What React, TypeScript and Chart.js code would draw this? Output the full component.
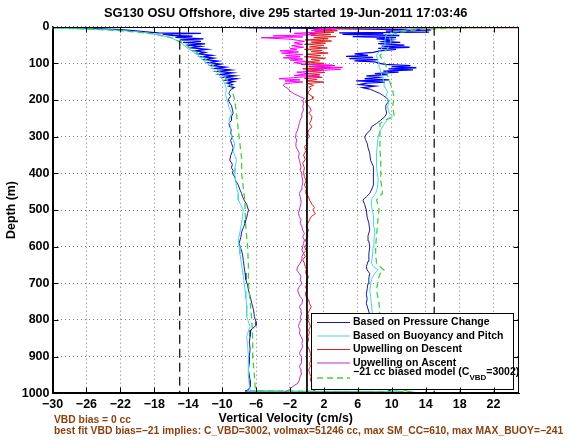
import React, { useEffect, useRef } from 'react';
import { Chart, registerables } from 'chart.js';

Chart.register(...registerables);

// ---------- text ----------
const TITLE = 'SG130 OSU Offshore, dive 295 started 19-Jun-2011 17:03:46';
const X_LABEL = 'Vertical Velocity (cm/s)';
const Y_LABEL = 'Depth (m)';
const NOTE_1 = 'VBD bias = 0 cc';
const NOTE_2 = 'best fit VBD bias=\u221221 implies: C_VBD=3002, volmax=51246 cc, max SM_CC=610, max MAX_BUOY=\u2212241';
const LEGEND_LABELS = [
  'Based on Pressure Change',
  'Based on Buoyancy and Pitch',
  'Upwelling on Descent',
  'Upwelling on Ascent',
  '\u221221 cc biased model (C|VBD|=3002)',
];

// ---------- axes ----------
const X_MIN = -30;
const X_MAX = 25;
const X_TICKS = [-30, -26, -22, -18, -14, -10, -6, -2, 2, 6, 10, 14, 18, 22];
const Y_MIN = 0;
const Y_MAX = 1000;
const Y_STEP = 100;
const REF_SOLID = [0];
const REF_DASHED = [-15, 15];

// ---------- data: [depth (m), vertical velocity (cm/s)] ----------
const PRESSURE_DESC_NEAR: [number, number][] = [
  [0, -40], [3, -30], [5, -25], [8, -22], [11, -20.5], [14, -19], [17, -17.5], [18, -12.5], [20, -17],
  [24, -15.8], [26, -13.5], [29, -15.5], [33, -12.2], [36, -15], [40, -12.5], [43, -14.6], [47, -12],
  [50, -14.2], [54, -12.5], [58, -13.6], [62, -11.8], [66, -13.2], [70, -12], [74, -12.8], [78, -11.2],
  [82, -12.4], [86, -11], [90, -12], [94, -10.5], [98, -11.6], [102, -10.2], [106, -11.2], [110, -9.6],
  [114, -10.8], [118, -9], [122, -10.5], [126, -8.8], [130, -10.2], [134, -8.5], [138, -9.8], [142, -8.3],
  [146, -9.6], [150, -8.6], [154, -9.4], [158, -8.8], [162, -9.2], [166, -8.6], [170, -8.9],
];
const PRESSURE_DESC_DEEP: [number, number][] = [
  [170, -8.9], [176, -9.1], [182, -9.2], [190, -9.0], [200, -9.3], [208, -9.1], [215, -8.9], [225, -8.8],
  [236, -8.7], [245, -8.9], [255, -8.9], [264, -9.2], [273, -9.1], [282, -8.9], [290, -9.0], [300, -8.8],
  [310, -9.0], [318, -8.9], [330, -8.7], [340, -8.8], [352, -9.0], [364, -9.1], [375, -8.8], [385, -8.9],
  [393, -8.7], [400, -8.8], [410, -8.5], [420, -8.4], [432, -8.1], [445, -7.9], [455, -7.7], [464, -7.6],
  [473, -7.4], [485, -7.1], [500, -6.9], [510, -7.0], [520, -7.1], [528, -7.2], [536, -7.3], [548, -7.5],
  [560, -7.7], [575, -7.8], [591, -8.0], [605, -7.8], [620, -7.6], [638, -7.5], [655, -7.4], [672, -7.3],
  [690, -7.2], [705, -7.0], [718, -6.9], [735, -6.7], [755, -6.5], [772, -6.3], [791, -6.2], [805, -6.0],
  [815, -6.0], [827, -6.6], [845, -6.7], [860, -6.8], [880, -6.7], [900, -6.8], [918, -6.8], [935, -6.9],
  [950, -6.8], [965, -6.7], [982, -6.7], [990, -6.9], [994, -7.3],
];
const PRESSURE_BOTTOM: [number, number][] = [[995, 2], [995, 10]];
const PRESSURE_ASC_DEEP: [number, number][] = [
  [990, 9.5], [975, 8.5], [960, 7.9], [940, 7.6], [920, 7.4], [900, 7.3], [880, 7.4], [860, 7.2], [840, 7.3],
  [820, 7.1], [800, 7.3], [785, 7.4], [770, 7.2], [755, 7.0], [742, 7.1], [730, 7.0], [715, 7.1], [700, 7.2],
  [685, 7.3], [673, 7.4], [664, 7.1], [655, 7.0], [640, 7.2], [620, 7.3], [600, 7.4], [585, 7.3], [570, 7.2],
  [555, 7.4], [536, 7.3], [520, 7.1], [500, 7.0], [485, 6.8], [473, 6.6], [464, 7.0], [455, 7.4], [440, 7.7],
  [428, 7.9], [418, 7.9], [400, 7.8], [382, 7.8], [364, 7.5], [345, 7.4], [330, 7.2], [318, 7.1], [308, 6.9],
  [300, 6.8], [290, 7.1], [282, 7.5], [273, 7.6], [264, 8.2], [255, 8.7], [245, 9.2], [236, 9.4], [225, 9.3],
  [214, 9.3], [205, 9.6], [196, 9.5], [188, 9.0], [182, 8.6], [176, 8.0], [170, 7.4],
];
const PRESSURE_ASC_NEAR: [number, number][] = [
  [170, 7.4], [166, 6.6], [162, 8.0], [158, 6.2], [154, 7.0], [151, 9.2], [148, 5.8], [145, 9.7], [142, 6.8],
  [138, 8.5], [134, 7.0], [131, 9.5], [128, 8.0], [124, 10.8], [121, 9.0], [118, 12.5], [115, 9.6], [112, 12.9],
  [109, 10.0], [106, 12.2], [103, 9.2], [100, 8.6], [96, 8.0], [93, 5.6], [90, 8.4], [87, 5.0], [84, 7.8],
  [81, 4.6], [78, 7.2], [74, 5.6], [70, 7.8], [66, 8.6], [62, 10.5], [59, 8.4], [56, 12.1], [53, 8.8],
  [50, 11.5], [46, 8.4], [43, 11.0], [40, 9.0], [36, 10.0], [33, 8.2], [30, 10.5], [27, 5.4], [24, 10.9],
  [21, 4.2], [19, 9.0], [17, 3.8], [15, 14.4], [12, 9.3], [9, 14.6], [6, 5], [4, -2], [3, -6.5], [2, -8.3],
];
const BUOY_DESC: [number, number][] = [
  [1, -35], [4, -30], [7, -25], [10, -22], [15, -19.5], [20, -18], [30, -16], [45, -14.8], [60, -14],
  [75, -13], [90, -12.3], [105, -11.5], [120, -10.8], [135, -10.2], [150, -9.8], [160, -9.6], [170, -9.5],
  [185, -9.6], [200, -9.4], [220, -9.2], [236, -8.9], [255, -9.2], [273, -9.0], [300, -8.9], [318, -8.5],
  [340, -8.7], [364, -8.3], [385, -8.5], [400, -8.5], [420, -8.4], [440, -8.3], [455, -8.1], [473, -8.1],
  [486, -7.8], [500, -7.5], [518, -7.6], [536, -7.7], [560, -7.9], [582, -8.1], [600, -8.0], [620, -7.9],
  [650, -7.7], [680, -7.5], [700, -7.4], [720, -7.3], [740, -7.2], [760, -7.1], [791, -7.1], [805, -6.9],
  [818, -6.7], [830, -6.9], [845, -7.1], [870, -7.0], [900, -6.9], [930, -6.9], [955, -6.9], [975, -6.8],
  [990, -6.7], [994, -7.0],
];
const BUOY_BOTTOM: [number, number][] = [[996, 3], [995, 11]];
const BUOY_ASC: [number, number][] = [
  [990, 10], [970, 8.6], [950, 8.1], [930, 7.9], [900, 7.9], [870, 7.8], [840, 7.8], [800, 7.8], [780, 7.7],
  [755, 7.6], [735, 7.5], [718, 7.4], [705, 7.5], [690, 7.6], [675, 7.9], [664, 8.4], [655, 7.9], [645, 7.6],
  [630, 7.7], [600, 7.8], [580, 7.9], [560, 8.0], [545, 7.9], [530, 7.9], [515, 7.8], [500, 7.7], [485, 7.6],
  [473, 7.6], [464, 7.8], [455, 8.1], [440, 8.3], [418, 8.4], [400, 8.3], [382, 8.2], [364, 8.2], [345, 8.2],
  [320, 8.3], [300, 8.4], [285, 8.6], [273, 8.9], [262, 9.2], [250, 9.6], [245, 10.1], [240, 9.9], [236, 9.7],
  [225, 9.6], [218, 9.5], [205, 9.7], [190, 9.3], [178, 9.5], [165, 9.2], [151, 9.1], [138, 8.9], [124, 8.7],
  [112, 8.6], [101, 8.5], [90, 8.3], [78, 8.2], [65, 8.6], [51, 9.1], [38, 9.2], [24, 9.3], [15, 10], [8, 12],
  [3, 14], [1, 20],
];
const MODEL_DESC: [number, number][] = [
  [1, -40], [3, -30], [6, -26], [10, -22.5], [15, -20], [20, -18], [30, -16], [45, -14.6], [60, -13.6],
  [80, -12.4], [100, -11.4], [120, -10.4], [140, -9.6], [160, -9.0], [170, -8.9], [200, -8.5], [240, -8.3],
  [280, -8.1], [320, -7.9], [360, -7.7], [400, -7.7], [440, -7.5], [480, -7.3], [500, -7.3], [550, -7.2],
  [600, -7.0], [650, -6.9], [700, -6.9], [750, -6.7], [800, -6.5], [850, -6.4], [900, -6.4], [950, -6.2],
  [985, -6.1], [993, -6.0],
];
const MODEL_BOTTOM: [number, number][] = [[996, 4], [995, 12]];
const MODEL_ASC: [number, number][] = [
  [990, 11], [960, 9.2], [930, 8.8], [900, 8.6], [850, 8.6], [800, 8.6], [755, 8.5], [718, 8.2], [690, 8.4],
  [675, 8.6], [664, 9.1], [655, 8.6], [645, 8.2], [620, 8.1], [600, 8.1], [570, 8.2], [545, 8.3], [520, 8.4],
  [500, 8.5], [485, 8.4], [473, 8.2], [464, 8.5], [455, 8.9], [436, 8.8], [418, 8.7], [390, 8.7], [364, 8.7],
  [330, 8.6], [300, 8.6], [280, 8.6], [264, 8.6], [255, 9.2], [245, 10.3], [232, 10.2], [218, 10.1], [205, 10.2],
  [196, 10.3], [185, 10.2], [173, 10.1], [160, 9.9], [146, 9.7], [133, 9.5], [118, 9.4], [105, 9.3], [92, 8.9],
  [78, 8.6], [68, 9.1], [60, 9.5], [50, 9.8], [42, 9.9], [32, 9.8], [24, 9.7], [15, 11], [8, 13], [3, 18], [1, 26],
];
const UPW_DESC_NEAR: [number, number][] = [
  [3, 26], [3.5, 12], [4, 6], [5, 1.5], [7, 3.0], [9, 0.8], [11, 3.6], [13, 1.0], [15, 3.2], [18, 0.3],
  [21, 2.8], [24, 0.5], [27, 3.4], [30, 0.8], [33, 2.5], [36, -0.2], [39, 2.9], [42, 0.5], [45, 2.2], [48, -0.3],
  [51, 2.0], [55, 0.3], [58, 2.4], [62, -0.3], [65, 1.8], [68, 0.5], [72, 2.5], [75, 0.0], [79, 1.6], [82, -0.3],
  [86, 2.2], [89, 0.5], [93, 1.5], [96, -0.2], [100, 2.0], [103, -0.7], [106, 3.3], [109, 0.2], [112, 2.8],
  [115, -0.5], [118, 2.0], [121, 0.0], [125, 2.1], [128, -0.3], [131, 1.5], [135, 0.2], [138, 1.8], [141, -0.3],
  [144, 1.2], [148, 0.0], [151, 2.0], [155, 0.1], [160, 0.8], [165, 0.2], [170, 0.5],
];
const UPW_DESC_DEEP: [number, number][] = [
  [170, 0.5], [176, 0.2], [182, 0.1], [190, 0.6], [196, 0.7], [205, -0.2], [212, 0.0], [218, 0.3], [228, 0.5],
  [236, 0.2], [245, 0.6], [255, 0.5], [264, 0.3], [273, 0.6], [282, 0.2], [291, 0.1], [300, 0.3], [310, -0.1],
  [318, 0.1], [327, -0.3], [338, -0.1], [350, -0.4], [362, -0.2], [373, -0.5], [385, -0.3], [397, -0.4],
  [409, -0.3], [420, -0.1], [432, -0.3], [445, 0.0], [455, -0.1], [464, 0.2], [473, 0.3], [485, 0.6], [493, 0.9],
  [500, 0.7], [510, 1.0], [518, 0.5], [527, 0.3], [536, 0.1], [545, -0.1], [555, 0.2], [564, 0.0], [573, 0.1],
  [582, -0.2], [591, 0.0], [600, -0.3], [610, -0.1], [618, -0.4], [627, -0.2], [636, -0.5], [645, -0.3],
  [655, -0.2], [664, 0.0], [673, -0.1], [682, 0.2], [691, 0.0], [700, 0.1], [709, -0.2], [718, 0.0], [727, -0.2],
  [736, -0.1], [745, 0.2], [755, 0.3], [764, 0.5], [773, 0.3], [782, 0.1], [791, 0.2], [800, 0.1], [809, 0.3],
  [818, 0.4], [827, 0.2], [836, 0.3], [845, 0.1], [855, 0.2], [864, 0.0], [873, 0.1], [882, 0.3], [891, 0.4],
  [900, 0.5], [909, 0.5], [918, 0.3], [927, 0.4], [936, 0.2], [945, 0.3], [955, 0.5], [964, 0.4], [973, 0.6],
  [982, 0.5], [990, 0.7], [995, 1.0],
];
const UPW_ASC_DEEP: [number, number][] = [
  [996, -2.6], [992, -2.2], [986, -1.9], [980, -1.6], [973, -1.1], [964, -0.9], [955, -0.8], [945, -0.6],
  [936, -0.7], [927, -0.9], [918, -0.7], [909, -0.6], [900, -0.7], [891, -0.9], [882, -0.7], [873, -0.5],
  [864, -0.6], [855, -0.5], [845, -0.7], [836, -0.9], [827, -0.8], [818, -1.0], [809, -0.9], [800, -0.7],
  [791, -0.8], [782, -0.6], [773, -0.7], [764, -0.9], [755, -0.6], [745, -0.5], [736, -0.8], [727, -1.0],
  [718, -1.1], [709, -0.9], [700, -0.6], [691, -0.8], [682, -0.7], [673, -0.9], [664, -1.2], [655, -1.1],
  [645, -0.8], [636, -0.6], [627, -0.6], [618, -0.4], [609, -0.6], [600, -0.5], [591, -0.4], [582, -0.3],
  [573, -0.5], [564, -0.3], [555, -0.5], [545, -0.6], [536, -0.8], [527, -0.7], [518, -0.9], [509, -1.0],
  [500, -0.9], [491, -0.8], [482, -0.7], [473, -0.7], [464, -0.8], [455, -0.9], [445, -0.7], [436, -0.6],
  [427, -0.5], [418, -0.5], [409, -0.6], [400, -0.6], [391, -0.8], [382, -0.7], [373, -0.8], [364, -0.9],
  [355, -1.0], [345, -0.9], [336, -1.1], [327, -1.3], [318, -1.3], [309, -1.2], [300, -1.4], [291, -1.3],
  [282, -1.1], [273, -1.0], [264, -0.9], [255, -0.8], [245, -0.6], [236, -0.6], [227, -0.4], [218, -0.5],
  [209, -0.4], [200, -0.5], [196, -0.3], [190, -0.9], [183, -1.5], [176, -2.0], [169, -2.2], [164, -2.6],
  [160, -2.8], [155, -2.6],
];
const UPW_ASC_NEAR: [number, number][] = [
  [155, -2.6], [151, -0.5], [148, -2.6], [145, -0.8], [142, -3.3], [138, -1.0], [135, 1.5], [133, -1.5],
  [128, 0.3], [124, -1.2], [119, 2.0], [116, 4.0], [113, 1.0], [111, 4.2], [108, 0.6], [105, 3.0], [102, -0.5],
  [98, -1.5], [95, 0.0], [91, -2.0], [88, -0.5], [85, -2.8], [82, -0.8], [79, -2.5], [76, -0.5], [72, -3.0],
  [69, -1.0], [66, -3.2], [63, -1.2], [60, -2.0], [56, -0.4], [52, -1.8], [48, -0.5], [44, -1.5], [40, -0.3],
  [34, -2.0], [30, -5.4], [28, -0.5], [25, -4.0], [22, 1.0], [18, -1.5], [14, 2.0], [10, 0.5], [6, 3.5],
  [3, 1.0], [1, 4.5], [0, 2],
];

// ---------- styles ----------
const FONT = "'Liberation Sans', Arial, Helvetica, sans-serif";
const C_PRESSURE = '#1c1c96';
const C_PRESSURE_NEAR = '#0000ff';
const C_BUOY = '#46d8e2';
const C_UPW_DESC = '#dd2222';
const C_UPW_ASC = '#c22cc6';
const C_UPW_ASC_NEAR = '#ff00ff';
const C_MODEL = '#3fd23f';
const C_NOTE = '#8b4010';
const MODEL_DASH = [6, 4];

const pts = (arr: [number, number][]) => arr.map(([d, w]) => ({ x: w, y: d }));

const minusFmt = (v: number) => (v < 0 ? '\u2212' + Math.abs(v) : String(v));

const matlabPlugin = {
  id: 'matlabLook',
  afterDatasetsDraw(chart: any) {
    const { ctx } = chart;
    // legend box
    const lx = 311, ly = 313, lw = 202, lh = 76;
    ctx.save();
    ctx.fillStyle = '#ffffff';
    ctx.fillRect(lx, ly, lw, lh);
    ctx.strokeStyle = '#000';
    ctx.lineWidth = 1;
    ctx.strokeRect(lx + 0.5, ly + 0.5, lw, lh);
    const rows = [322.5, 336, 349.5, 363, 378];
    const colors = [C_PRESSURE, C_BUOY, C_UPW_DESC, C_UPW_ASC, C_MODEL];
    ctx.font = `bold 10.5px ${FONT}`;
    ctx.textBaseline = 'middle';
    ctx.textAlign = 'left';
    LEGEND_LABELS.forEach((label, i) => {
      const y = rows[i];
      ctx.beginPath();
      ctx.strokeStyle = colors[i];
      ctx.lineWidth = i === 4 ? 1.3 : 1.2;
      ctx.setLineDash(i === 4 ? MODEL_DASH : []);
      ctx.moveTo(317, y);
      ctx.lineTo(350, y);
      ctx.stroke();
      ctx.setLineDash([]);
      ctx.fillStyle = '#000';
      const ty = i === 4 ? 372.5 : y;
      const parts = label.split('|');
      let x = 353;
      parts.forEach((p, k) => {
        if (k === 1) {
          ctx.font = `bold 8px ${FONT}`;
          ctx.fillText(p, x, ty + 5);
          x += ctx.measureText(p).width;
          ctx.font = `bold 10.5px ${FONT}`;
        } else {
          ctx.fillText(p, x, ty);
          x += ctx.measureText(p).width;
        }
      });
    });
    ctx.restore();
  },
  afterDraw(chart: any) {
    const { ctx, chartArea: a, scales } = chart;
    ctx.save();
    // axes box
    ctx.strokeStyle = '#000';
    ctx.lineWidth = 1;
    ctx.setLineDash([]);
    const L = Math.round(a.left) + 0.5, R = Math.round(a.right) - 0.5;
    const T = Math.round(a.top) + 0.5, B = Math.round(a.bottom) - 0.5;
    ctx.strokeRect(L, T, R - L, B - T);
    // inward tick marks
    ctx.beginPath();
    X_TICKS.forEach((v) => {
      const px = Math.round(scales.x.getPixelForValue(v)) + 0.5;
      ctx.moveTo(px, B); ctx.lineTo(px, B - 5);
      ctx.moveTo(px, T); ctx.lineTo(px, T + 5);
    });
    for (let v = Y_MIN; v <= Y_MAX; v += Y_STEP) {
      const py = Math.round(scales.y.getPixelForValue(v)) + 0.5;
      ctx.moveTo(L, py); ctx.lineTo(L + 5, py);
      ctx.moveTo(R, py); ctx.lineTo(R - 5, py);
    }
    ctx.stroke();
    // title
    ctx.fillStyle = '#000';
    ctx.font = `bold 12.8px ${FONT}`;
    ctx.textAlign = 'center';
    ctx.textBaseline = 'middle';
    ctx.fillText(TITLE, (a.left + a.right) / 2, 13);
    // notes
    ctx.fillStyle = C_NOTE;
    ctx.font = `bold 10.3px ${FONT}`;
    ctx.textAlign = 'left';
    ctx.fillText(NOTE_1, 54, 420);
    ctx.fillText(NOTE_2, 54, 431.5);
    ctx.restore();
  },
};

export default function App() {
  const canvasRef = useRef<HTMLCanvasElement | null>(null);

  useEffect(() => {
    const canvas = canvasRef.current;
    if (!canvas) return;
    const line = (label: string, data: any[], color: string, width: number, order: number, dash: number[] = []) => ({
      label,
      data,
      borderColor: color,
      backgroundColor: color,
      borderWidth: width,
      borderDash: dash,
      pointRadius: 0,
      pointHoverRadius: 0,
      fill: false,
      tension: 0,
      order,
    });
    const refLines = [
      ...REF_SOLID.map((v) => line('ref', [{ x: v, y: Y_MIN }, { x: v, y: Y_MAX }], '#000', 1, 0)),
      ...REF_DASHED.map((v) => line('ref', [{ x: v, y: Y_MIN }, { x: v, y: Y_MAX }], '#000', 1.2, 0, [9, 5])),
    ];
    const datasets = [
      ...refLines,
      line('model', pts([...MODEL_DESC, ...MODEL_BOTTOM, ...MODEL_ASC]), C_MODEL, 1.3, 1, MODEL_DASH),
      line('Upwelling on Ascent', pts(UPW_ASC_DEEP), C_UPW_ASC, 1, 2),
      line('Upwelling on Ascent', pts(UPW_ASC_NEAR), C_UPW_ASC_NEAR, 1, 2),
      line('Upwelling on Descent', pts([...UPW_DESC_NEAR, ...UPW_DESC_DEEP]), C_UPW_DESC, 1, 3),
      line('Based on Buoyancy and Pitch', pts([...BUOY_DESC, ...BUOY_BOTTOM, ...BUOY_ASC]), C_BUOY, 1, 4),
      line('Based on Pressure Change', pts(PRESSURE_DESC_NEAR), C_PRESSURE_NEAR, 1.3, 5),
      line('Based on Pressure Change', pts(PRESSURE_ASC_NEAR), C_PRESSURE_NEAR, 1.3, 5),
      line('Based on Pressure Change', pts([...PRESSURE_DESC_DEEP, ...PRESSURE_BOTTOM, ...PRESSURE_ASC_DEEP]), C_PRESSURE, 1, 6),
    ];
    const tickFont = { family: FONT, size: 12.5, weight: 'bold' as const };
    const chart = new Chart(canvas, {
      type: 'line',
      data: { datasets },
      plugins: [matlabPlugin],
      options: {
        responsive: false,
        animation: false,
        devicePixelRatio: 1,
        layout: { padding: { top: 26.7, right: 51, left: 0, bottom: 0 } },
        plugins: {
          legend: { display: false },
          title: { display: false },
          tooltip: { enabled: false },
        },
        events: [],
        scales: {
          x: {
            type: 'linear',
            min: X_MIN,
            max: X_MAX,
            afterBuildTicks: (scale: any) => {
              scale.ticks = X_TICKS.map((v) => ({ value: v }));
            },
            afterFit: (scale: any) => {
              scale.height = 46.7;
            },
            ticks: {
              autoSkip: false,
              maxRotation: 0,
              padding: 4,
              color: '#000',
              font: tickFont,
              callback: (v: any) => minusFmt(Number(v)),
            },
            grid: { color: 'rgba(0,0,0,0.5)', lineWidth: 1, drawTicks: false },
            border: { display: true, color: '#000', width: 1, dash: [1, 3] },
            title: {
              display: true,
              text: X_LABEL,
              color: '#000',
              font: { family: FONT, size: 12.4, weight: 'bold' },
              padding: { top: 0, bottom: 14 },
            },
          },
          y: {
            type: 'linear',
            reverse: true,
            min: Y_MIN,
            max: Y_MAX,
            afterFit: (scale: any) => {
              scale.width = 52.5;
            },
            ticks: {
              stepSize: Y_STEP,
              padding: 3,
              color: '#000',
              font: tickFont,
              callback: (v: any) => String(v),
            },
            grid: { color: 'rgba(0,0,0,0.5)', lineWidth: 1, drawTicks: false },
            border: { display: true, color: '#000', width: 1, dash: [1, 3] },
            title: {
              display: true,
              text: Y_LABEL,
              color: '#000',
              font: { family: FONT, size: 12.4, weight: 'bold' },
              padding: { top: 4.6, bottom: 0 },
            },
          },
        },
      } as any,
    });
    return () => chart.destroy();
  }, []);

  return (
    <div style={{ position: 'fixed', left: 0, top: 0, width: 570, height: 440, background: '#fff' }}>
      <canvas ref={canvasRef} width={570} height={440} style={{ display: 'block', width: 570, height: 440 }} />
    </div>
  );
}
